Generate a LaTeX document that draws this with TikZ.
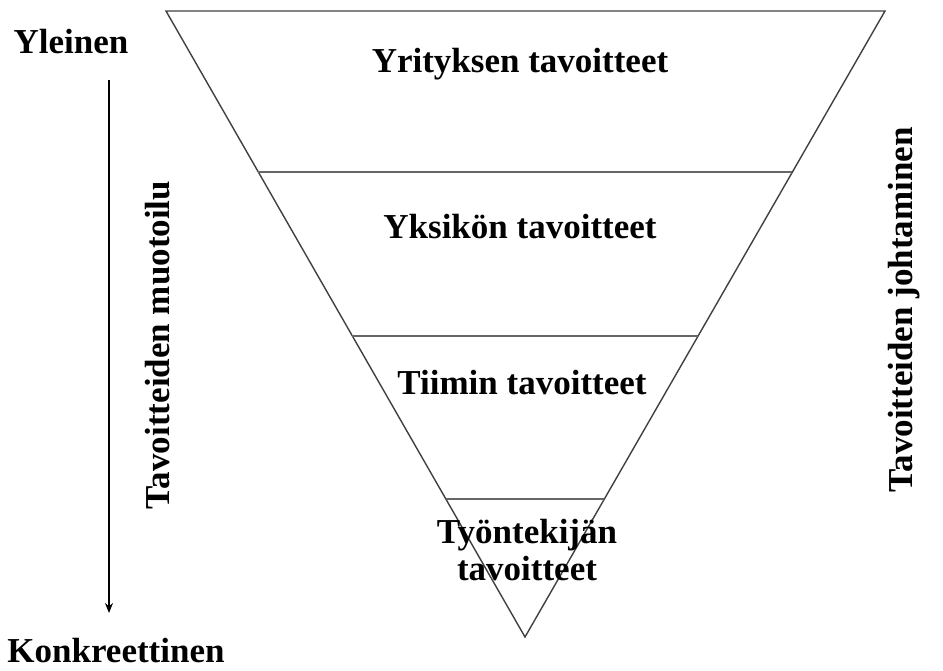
\documentclass[tikz,border=0pt]{standalone}
\usepackage{fontspec}
\setmainfont{Liberation Serif}
\usetikzlibrary{arrows.meta}
\begin{document}
\begin{tikzpicture}[x=1pt,y=-1pt,
  lbl/.style={font=\fontsize{35}{41}\selectfont\bfseries, inner sep=0pt, align=center},
  edge/.style={draw=black!75, line width=1.4pt, line join=miter},
  level/.style={draw=black!60, line width=2pt},
  flow/.style={draw=black, line width=1.8pt, -{Stealth[length=10pt,width=8pt]}}]
  \useasboundingbox (0,0) rectangle (943,670);

  % inverted triangle and its corners
  \coordinate (tl) at (166,11);
  \coordinate (tr) at (885,11);
  \coordinate (ap) at (525,637);
  \draw[edge] (tl) -- (tr) -- (ap) -- cycle;

  % dividing levels (ends on the triangle edges)
  \foreach \yy/\nm in {172/a,336/b,499/c}{
    \path (tl) -- (ap) coordinate[pos={(\yy-11)/626}] (l\nm);
    \path (tr) -- (ap) coordinate[pos={(\yy-11)/626}] (r\nm);
    \draw[level] (l\nm) -- (r\nm);
  }

  % level labels
  \node[lbl] (yritys) at (520,64) {Yrityksen tavoitteet};
  \node[lbl] (yksikko) at (520,227) {Yksikön tavoitteet};
  \node[lbl] (tiimi) at (522,383) {Tiimin tavoitteet};
  \node[lbl] (tyontekija) at (527,550) {Työntekijän\\[-4pt]tavoitteet};

  % left side: general to concrete
  \node[lbl] (yleinen) at (71,42) {Yleinen};
  \node[lbl] (konkreet) at (116,651) {Konkreettinen};
  \coordinate (ylaalku) at (109,80);
  \coordinate (alaloppu) at (109,613);
  \draw[flow] (ylaalku) -- (alaloppu);
  \node[lbl, rotate=90] (muotoilu) at (158,345) {Tavoitteiden muotoilu};

  % right side label
  \node[lbl, rotate=90] (johtaminen) at (904,310) {Tavoitteiden johtaminen};
\end{tikzpicture}
\end{document}
